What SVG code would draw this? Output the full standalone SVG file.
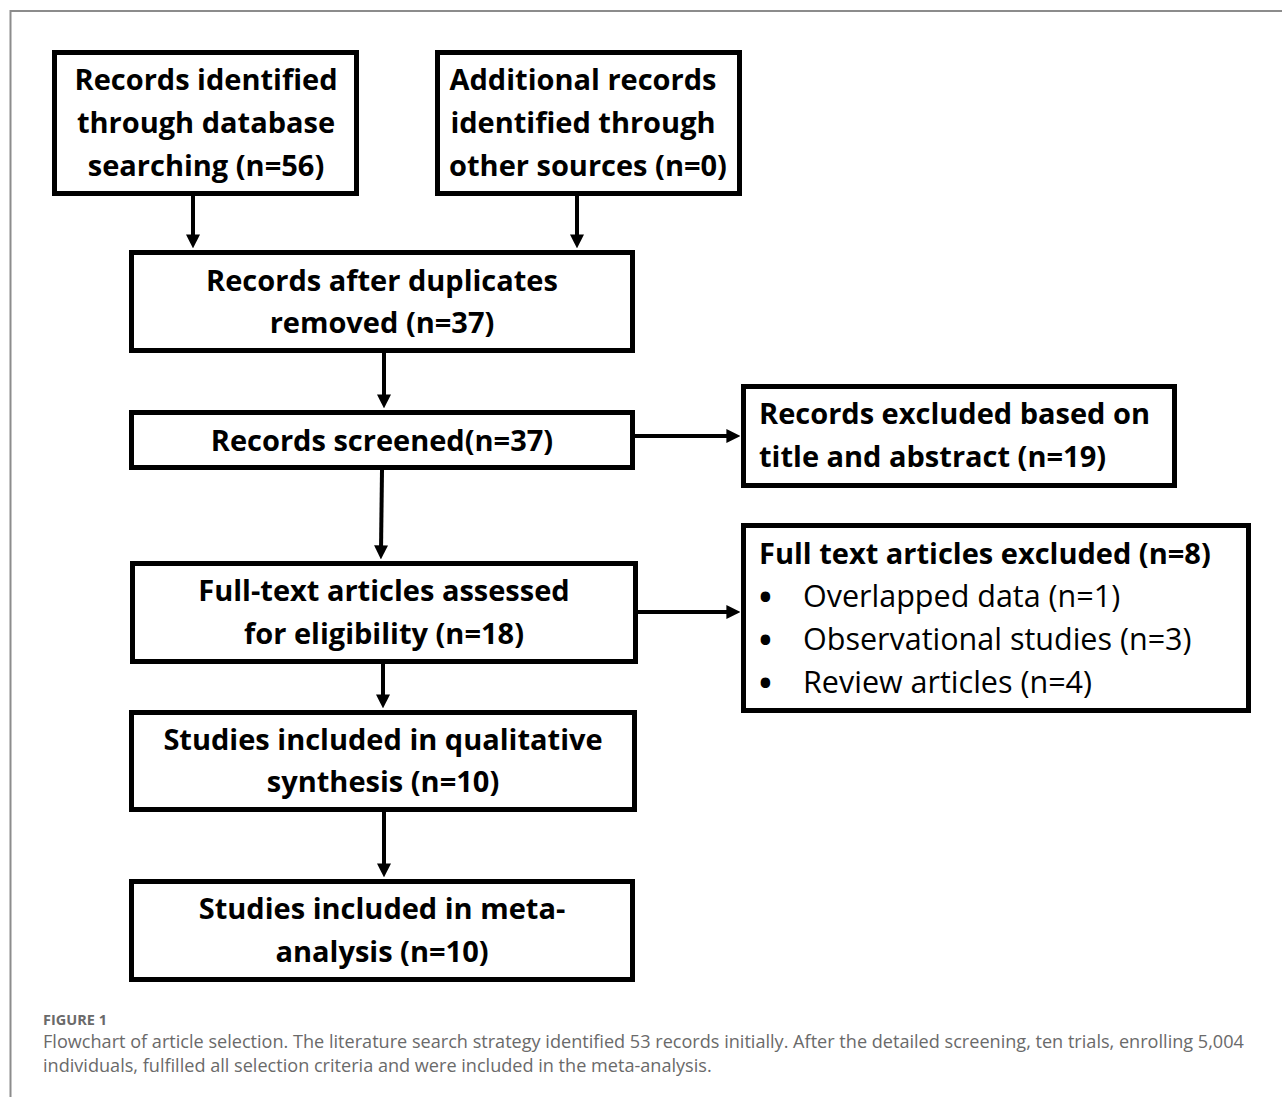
<svg xmlns="http://www.w3.org/2000/svg" width="1282" height="1097" viewBox="0 0 1282 1097">
<defs>
<marker id="ah" viewBox="0 0 10 10" refX="4" refY="5" markerWidth="14" markerHeight="14" markerUnits="userSpaceOnUse" orient="auto"><path d="M0,0 L10,5 L0,10 z" fill="#000"/></marker>
<style>
.box{fill:#fff;stroke:#000;stroke-width:5}
.t{font-family:"Open Sans","Liberation Sans",sans-serif;font-weight:bold;font-size:29px;fill:#000}
.c{text-anchor:middle}
.r{font-weight:normal;font-size:30.5px}
.b{font-size:34px}
.con{stroke:#000;stroke-width:4;fill:none;marker-end:url(#ah)}
.cap{font-family:"Open Sans","Liberation Sans",sans-serif;fill:#6a6a6a}
</style>
</defs>
<rect width="1282" height="1097" fill="#fff"/>
<rect x="10.5" y="11" width="1300" height="1120" fill="none" stroke="#8c8c8c" stroke-width="2"/>
<g id="connectors">
<line class="con" x1="193" y1="196" x2="193" y2="240"/>
<line class="con" x1="577" y1="196" x2="577" y2="240"/>
<line class="con" x1="384" y1="353" x2="384" y2="400"/>
<line class="con" x1="635" y1="436" x2="732" y2="436"/>
<line class="con" x1="382" y1="470" x2="381" y2="551"/>
<line class="con" x1="638" y1="612" x2="732" y2="612"/>
<line class="con" x1="383" y1="664" x2="383" y2="700"/>
<line class="con" x1="384" y1="812" x2="384" y2="869"/>
</g>
<g id="n1"><rect class="box" x="54.5" y="52.5" width="302" height="141"/>
<text class="t c" x="206" y="90">Records identified</text>
<text class="t c" x="206" y="133">through database</text>
<text class="t c" x="206" y="176">searching (n=56)</text></g>
<g id="n2"><rect class="box" x="437.5" y="52.5" width="302" height="141"/>
<text class="t c" x="583" y="90">Additional records</text>
<text class="t c" x="583" y="133">identified through</text>
<text class="t c" x="588" y="176">other sources (n=0)</text></g>
<g id="n3"><rect class="box" x="131.5" y="252.5" width="501" height="98"/>
<text class="t c" x="382" y="291">Records after duplicates</text>
<text class="t c" x="382" y="333">removed (n=37)</text></g>
<g id="n4"><rect class="box" x="131.5" y="412.5" width="501" height="55"/>
<text class="t c" x="382" y="451">Records screened(n=37)</text></g>
<g id="n5"><rect class="box" x="743.5" y="386.5" width="431" height="99"/>
<text class="t" x="759" y="424">Records excluded based on</text>
<text class="t" x="759" y="467">title and abstract (n=19)</text></g>
<g id="n6"><rect class="box" x="132.5" y="563.5" width="503" height="98"/>
<text class="t c" x="384" y="601">Full-text articles assessed</text>
<text class="t c" x="384" y="644">for eligibility (n=18)</text></g>
<g id="n7"><rect class="box" x="743.5" y="525.5" width="505" height="185"/>
<text class="t" x="759" y="564">Full text articles excluded (n=8)</text>
<text class="t b" x="759" y="609">•</text><text class="t r" x="803" y="607">Overlapped data (n=1)</text>
<text class="t b" x="759" y="652">•</text><text class="t r" x="803" y="650">Observational studies (n=3)</text>
<text class="t b" x="759" y="695">•</text><text class="t r" x="803" y="693">Review articles (n=4)</text></g>
<g id="n8"><rect class="box" x="131.5" y="712.5" width="503" height="97"/>
<text class="t c" x="383" y="750">Studies included in qualitative</text>
<text class="t c" x="383" y="792">synthesis (n=10)</text></g>
<g id="n9"><rect class="box" x="131.5" y="881.5" width="501" height="98"/>
<text class="t c" x="382" y="919">Studies included in meta-</text>
<text class="t c" x="382" y="962">analysis (n=10)</text></g>
<g id="caption">
<text class="cap" x="43" y="1025" font-size="14.5" font-weight="bold" fill="#555">FIGURE 1</text>
<text class="cap" x="43" y="1048" font-size="18.1">Flowchart of article selection. The literature search strategy identified 53 records initially. After the detailed screening, ten trials, enrolling 5,004</text>
<text class="cap" x="43" y="1072" font-size="18.1">individuals, fulfilled all selection criteria and were included in the meta-analysis.</text>
</g>
</svg>
